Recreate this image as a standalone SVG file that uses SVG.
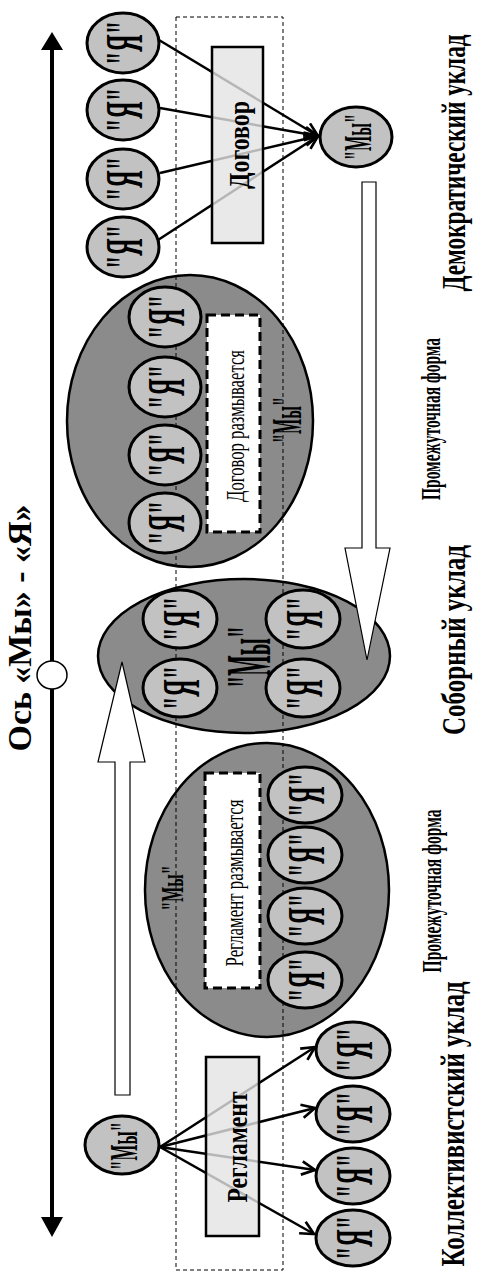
<svg xmlns="http://www.w3.org/2000/svg" width="480" height="1272" viewBox="0 0 480 1272">
<defs>
<style>
.ax{stroke:#000;stroke-width:4;fill:none}
.axh{fill:#000}
.frame{fill:none;stroke:#000;stroke-width:1;stroke-dasharray:4 3}
.big{fill:#8b8b8b;stroke:#000;stroke-width:2.5}
.ya{fill:#c2c2c2;stroke:#000;stroke-width:3}
.box{fill:#e4e4e4;fill-opacity:0.8;stroke:#000;stroke-width:2.5}
.dbox{fill:#fff;stroke:#000;stroke-width:3;stroke-dasharray:9 5}
.link{stroke:#000;stroke-width:2.5;fill:none;marker-end:url(#open)}
.barrow{fill:#fff;stroke:#000;stroke-width:1.2}
text{font-family:"Liberation Serif","Times New Roman",serif;text-anchor:middle;dominant-baseline:central;fill:#000}
.b{font-weight:bold}
.ya-t{font-weight:bold;font-size:52px}
.my-t{font-weight:bold;font-size:40px}
.lab{font-weight:bold;font-size:33px}
.lab2{font-weight:bold;font-size:27px}
.reg{font-size:25px}
</style>
<marker id="open" viewBox="0 0 12 12" refX="11" refY="6" markerWidth="16" markerHeight="16" markerUnits="userSpaceOnUse" orient="auto"><path d="M1,1 L11,6 L1,11" fill="none" stroke="#000" stroke-width="2"/></marker>
</defs>

<g id="axis">
<line class="ax" x1="52" y1="48" x2="52" y2="1219"/>
<polygon class="axh" points="52,32 41,50 63,50"/>
<polygon class="axh" points="52,1237 41,1217 63,1217"/>
<ellipse cx="52" cy="675" rx="15" ry="14" fill="#fff" stroke="#000" stroke-width="1.5"/>
<text class="lab" x="20" y="628" transform="rotate(-90 20 628)" textLength="247" lengthAdjust="spacingAndGlyphs">Ось «Мы» - «Я»</text>
</g>

<g id="form-dogovor-ellipse">
<ellipse class="big" cx="190" cy="421" rx="123" ry="146"/>
<text class="b" style="font-size:42px" x="287" y="420" transform="rotate(-90 287 420)" textLength="46" lengthAdjust="spacingAndGlyphs">"Мы"</text>
</g>
<g id="sobor-ellipse">
<ellipse class="big" cx="244" cy="656" rx="146" ry="77"/>
<text class="b" style="font-size:64px" x="248" y="657" transform="rotate(-90 248 657)" textLength="62" lengthAdjust="spacingAndGlyphs">"Мы"</text>
</g>
<g id="form-reglament-ellipse">
<ellipse class="big" cx="267" cy="890" rx="122" ry="147"/>
<text class="b" style="font-size:32px" x="172" y="888" transform="rotate(-90 172 888)" textLength="45" lengthAdjust="spacingAndGlyphs">"Мы"</text>
</g>

<rect id="frame" class="frame" x="176" y="17" width="107" height="1253"/>

<g id="connectors">
<line class="link" x1="159" y1="40" x2="318" y2="136"/>
<line class="link" x1="160" y1="108" x2="318" y2="136"/>
<line class="link" x1="160" y1="173" x2="318" y2="136"/>
<line class="link" x1="158" y1="240" x2="318" y2="136"/>
<line class="link" x1="160" y1="1147" x2="315" y2="1047"/>
<line class="link" x1="160" y1="1147" x2="315" y2="1108"/>
<line class="link" x1="160" y1="1147" x2="315" y2="1170"/>
<line class="link" x1="160" y1="1147" x2="314" y2="1234"/>
<path class="barrow" d="M362,182 L376,182 L376,548 L390,548 L367,660 L345,548 L362,548 Z"/>
<path class="barrow" d="M115,1095 L130,1095 L130,762 L145,762 L122,662 L98,762 L115,762 Z"/>
</g>

<!-- Democratic -->
<g id="dem-ya1"><ellipse class="ya" cx="123" cy="43" rx="36" ry="30"/><text class="ya-t" x="124" y="43" transform="rotate(-90 124 43)" textLength="44" lengthAdjust="spacingAndGlyphs">"Я"</text></g>
<g id="dem-ya2"><ellipse class="ya" cx="123" cy="110" rx="36" ry="30"/><text class="ya-t" x="124" y="110" transform="rotate(-90 124 110)" textLength="44" lengthAdjust="spacingAndGlyphs">"Я"</text></g>
<g id="dem-ya3"><ellipse class="ya" cx="123" cy="179" rx="36" ry="30"/><text class="ya-t" x="124" y="179" transform="rotate(-90 124 179)" textLength="44" lengthAdjust="spacingAndGlyphs">"Я"</text></g>
<g id="dem-ya4"><ellipse class="ya" cx="123" cy="247" rx="36" ry="30"/><text class="ya-t" x="124" y="247" transform="rotate(-90 124 247)" textLength="44" lengthAdjust="spacingAndGlyphs">"Я"</text></g>
<g id="dogovor"><rect class="box" x="212" y="47" width="51" height="196"/><text class="b" style="font-size:30px" x="238" y="145" transform="rotate(-90 238 145)" textLength="88" lengthAdjust="spacingAndGlyphs">Договор</text></g>
<g id="dem-my"><ellipse class="ya" cx="356" cy="137" rx="36" ry="30"/><text class="my-t" x="357" y="137" transform="rotate(-90 357 137)" textLength="46" lengthAdjust="spacingAndGlyphs">"Мы"</text></g>

<!-- Intermediate 1 -->
<g id="f1-ya1"><ellipse class="ya" cx="165" cy="317" rx="36" ry="30"/><text class="ya-t" x="166" y="317" transform="rotate(-90 166 317)" textLength="44" lengthAdjust="spacingAndGlyphs">"Я"</text></g>
<g id="f1-ya2"><ellipse class="ya" cx="165" cy="387" rx="36" ry="30"/><text class="ya-t" x="166" y="387" transform="rotate(-90 166 387)" textLength="44" lengthAdjust="spacingAndGlyphs">"Я"</text></g>
<g id="f1-ya3"><ellipse class="ya" cx="165" cy="455" rx="36" ry="30"/><text class="ya-t" x="166" y="455" transform="rotate(-90 166 455)" textLength="44" lengthAdjust="spacingAndGlyphs">"Я"</text></g>
<g id="f1-ya4"><ellipse class="ya" cx="165" cy="523" rx="36" ry="30"/><text class="ya-t" x="166" y="523" transform="rotate(-90 166 523)" textLength="44" lengthAdjust="spacingAndGlyphs">"Я"</text></g>
<g id="dogovor-blur"><rect class="dbox" x="207" y="315" width="53" height="217"/><text class="reg" x="235" y="426" transform="rotate(-90 235 426)" textLength="152" lengthAdjust="spacingAndGlyphs">Договор размывается</text></g>

<!-- Sobor -->
<g id="s-ya1"><ellipse class="ya" cx="180" cy="619" rx="37" ry="29"/><text class="ya-t" x="181" y="619" transform="rotate(-90 181 619)" textLength="44" lengthAdjust="spacingAndGlyphs">"Я"</text></g>
<g id="s-ya2"><ellipse class="ya" cx="303" cy="619" rx="37" ry="29"/><text class="ya-t" x="304" y="619" transform="rotate(-90 304 619)" textLength="44" lengthAdjust="spacingAndGlyphs">"Я"</text></g>
<g id="s-ya3"><ellipse class="ya" cx="180" cy="688" rx="37" ry="29"/><text class="ya-t" x="181" y="688" transform="rotate(-90 181 688)" textLength="44" lengthAdjust="spacingAndGlyphs">"Я"</text></g>
<g id="s-ya4"><ellipse class="ya" cx="303" cy="688" rx="37" ry="29"/><text class="ya-t" x="304" y="688" transform="rotate(-90 304 688)" textLength="44" lengthAdjust="spacingAndGlyphs">"Я"</text></g>

<!-- Intermediate 2 -->
<g id="reglament-blur"><rect class="dbox" x="205" y="773" width="55" height="215"/><text class="reg" x="234" y="883" transform="rotate(-90 234 883)" textLength="167" lengthAdjust="spacingAndGlyphs">Регламент размывается</text></g>
<g id="f2-ya1"><ellipse class="ya" cx="305" cy="795" rx="37" ry="28"/><text class="ya-t" x="306" y="795" transform="rotate(-90 306 795)" textLength="44" lengthAdjust="spacingAndGlyphs">"Я"</text></g>
<g id="f2-ya2"><ellipse class="ya" cx="305" cy="855" rx="37" ry="28"/><text class="ya-t" x="306" y="855" transform="rotate(-90 306 855)" textLength="44" lengthAdjust="spacingAndGlyphs">"Я"</text></g>
<g id="f2-ya3"><ellipse class="ya" cx="305" cy="916" rx="37" ry="28"/><text class="ya-t" x="306" y="916" transform="rotate(-90 306 916)" textLength="44" lengthAdjust="spacingAndGlyphs">"Я"</text></g>
<g id="f2-ya4"><ellipse class="ya" cx="305" cy="980" rx="37" ry="28"/><text class="ya-t" x="306" y="980" transform="rotate(-90 306 980)" textLength="44" lengthAdjust="spacingAndGlyphs">"Я"</text></g>

<!-- Collectivist -->
<g id="col-my"><ellipse class="ya" cx="122" cy="1145" rx="37" ry="29"/><text class="my-t" x="123" y="1146" transform="rotate(-90 123 1146)" textLength="48" lengthAdjust="spacingAndGlyphs">"Мы"</text></g>
<g id="reglament"><rect class="box" x="206" y="1057" width="53" height="179"/><text class="b" style="font-size:30px" x="236" y="1147" transform="rotate(-90 236 1147)" textLength="111" lengthAdjust="spacingAndGlyphs">Регламент</text></g>
<g id="col-ya1"><ellipse class="ya" cx="353" cy="1050" rx="37" ry="28"/><text class="ya-t" x="354" y="1050" transform="rotate(-90 354 1050)" textLength="44" lengthAdjust="spacingAndGlyphs">"Я"</text></g>
<g id="col-ya2"><ellipse class="ya" cx="353" cy="1114" rx="37" ry="28"/><text class="ya-t" x="354" y="1114" transform="rotate(-90 354 1114)" textLength="44" lengthAdjust="spacingAndGlyphs">"Я"</text></g>
<g id="col-ya3"><ellipse class="ya" cx="353" cy="1176" rx="37" ry="28"/><text class="ya-t" x="354" y="1176" transform="rotate(-90 354 1176)" textLength="44" lengthAdjust="spacingAndGlyphs">"Я"</text></g>
<g id="col-ya4"><ellipse class="ya" cx="353" cy="1238" rx="37" ry="28"/><text class="ya-t" x="354" y="1238" transform="rotate(-90 354 1238)" textLength="44" lengthAdjust="spacingAndGlyphs">"Я"</text></g>

<g id="labels">
<text class="lab" x="454" y="163" transform="rotate(-90 454 163)" textLength="257" lengthAdjust="spacingAndGlyphs">Демократический уклад</text>
<text class="lab2" x="431" y="419" transform="rotate(-90 431 419)" textLength="162" lengthAdjust="spacingAndGlyphs">Промежуточная форма</text>
<text class="lab" x="454" y="640" transform="rotate(-90 454 640)" textLength="190" lengthAdjust="spacingAndGlyphs">Соборный уклад</text>
<text class="lab2" x="432" y="891" transform="rotate(-90 432 891)" textLength="163" lengthAdjust="spacingAndGlyphs">Промежуточная форма</text>
<text class="lab" x="453" y="1124" transform="rotate(-90 453 1124)" textLength="285" lengthAdjust="spacingAndGlyphs">Коллективистский уклад</text>
</g>
</svg>
